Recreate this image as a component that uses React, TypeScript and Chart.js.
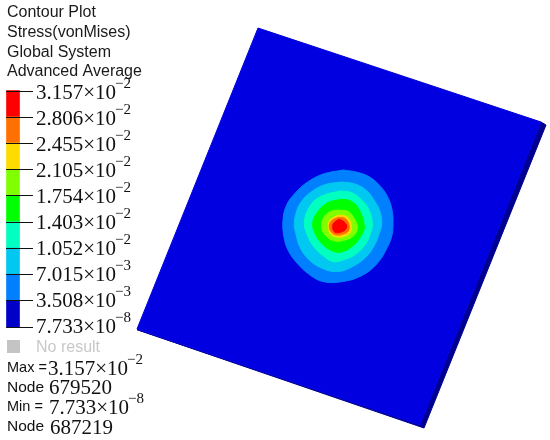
import { useEffect, useRef } from "react";
import { Chart, registerables } from "chart.js";

Chart.register(...registerables);

const titleLines = ["Contour Plot", "Stress(vonMises)", "Global System", "Advanced Average"];
const levels = [3.157e-2, 2.806e-2, 2.455e-2, 2.105e-2, 1.754e-2, 1.403e-2, 1.052e-2, 7.015e-3, 3.508e-3, 7.733e-8];
const mantissas = ["3.157", "2.806", "2.455", "2.105", "1.754", "1.403", "1.052", "7.015", "3.508", "7.733"];
const exponents = ["−2", "−2", "−2", "−2", "−2", "−2", "−2", "−3", "−3", "−8"];
const bandColors = ["#ff0000", "#ff7000", "#ffdc00", "#80ff00", "#00ff00", "#00ffc0", "#00c8f0", "#0080ff", "#0000c8"];

const plateX = [-36, 813, 450, -399, -36];
const plateY = [-396, -114, 795, 507, -396];
const edgeX = [813, 828, 462, -399, 450, 813];
const edgeY = [-114, -105, 804, 509, 795, -114];

const contourColors = ["#0080ff", "#00c8f0", "#00ffc0", "#00ff00", "#80ff00", "#ffdc00", "#ff7000", "#ff0000"];
const contourX = [
  [220, 262, 300, 332, 355, 367, 369, 366, 352, 322, 275, 215, 160, 120, 81, 54, 42, 39, 50, 75, 110, 160, 220],
  [215, 255, 290, 315, 330, 335, 328, 312, 287, 247, 200, 150, 114, 90, 78, 73, 78, 92, 122, 165, 215],
  [210, 245, 275, 297, 307, 303, 288, 258, 220, 190, 159, 129, 111, 103, 122, 155, 210],
  [210, 240, 265, 283, 270, 248, 215, 185, 155, 135, 128, 140, 170, 210],
  [205, 235, 255, 262, 250, 225, 195, 170, 155, 160, 180, 205],
  [205, 230, 243, 242, 225, 200, 182, 175, 180, 205],
  [205, 225, 237, 235, 220, 200, 185, 178, 185, 205],
  [207, 222, 230, 225, 210, 195, 188, 192, 207],
];
const contourY = [
  [30, 37, 52, 80, 115, 155, 190, 225, 262, 310, 347, 365, 365, 345, 309, 270, 231, 180, 135, 100, 68, 42, 30],
  [66, 72, 92, 125, 155, 190, 220, 258, 292, 320, 335, 322, 296, 262, 222, 195, 160, 128, 97, 74, 66],
  [93, 98, 120, 150, 190, 215, 250, 282, 300, 305, 287, 257, 222, 185, 135, 108, 93],
  [118, 122, 145, 200, 232, 258, 276, 272, 250, 220, 190, 160, 130, 118],
  [150, 155, 180, 205, 228, 240, 243, 230, 205, 175, 155, 150],
  [165, 170, 190, 215, 228, 231, 222, 200, 180, 165],
  [172, 175, 195, 213, 222, 225, 217, 200, 182, 172],
  [178, 185, 198, 210, 217, 217, 203, 188, 178],
];

const SANS = '"Liberation Sans", Arial, sans-serif';
const SERIF = '"Liberation Serif", "Times New Roman", serif';

function sci(ctx: CanvasRenderingContext2D, m: string, e: string, x: number, y: number) {
  ctx.font = `21px ${SERIF}`;
  const text = `${m}×10`;
  ctx.fillText(text, x, y);
  const w = ctx.measureText(text).width;
  ctx.font = `15px ${SERIF}`;
  ctx.fillText(e, x + w - 1, y - 11);
}

const annotate = {
  id: "annotate",
  afterDraw(chart: any) {
    const { ctx } = chart;
    const s = chart.scales.stress;
    ctx.save();
    ctx.textBaseline = "alphabetic";
    ctx.textAlign = "left";
    ctx.fillStyle = "#1a1a1a";
    ctx.font = `16px ${SANS}`;
    titleLines.forEach((t, i) => ctx.fillText(t, 7, 17 + i * 19.8));
    ctx.strokeStyle = "#111";
    ctx.lineWidth = 1;
    levels.forEach((v, i) => {
      const y = Math.round(s.getPixelForValue(v)) + 0.5;
      ctx.beginPath();
      ctx.moveTo(6, y);
      ctx.lineTo(33, y);
      ctx.stroke();
      ctx.fillStyle = "#111";
      sci(ctx, mantissas[i], exponents[i], 36, 99 + i * 26);
    });
    ctx.fillStyle = "#c4c4c4";
    ctx.fillRect(7, 340, 13, 13);
    ctx.font = `16px ${SANS}`;
    ctx.fillStyle = "#c8c8c8";
    ctx.fillText("No result", 36, 352);
    ctx.fillStyle = "#111";
    ctx.font = `14.5px ${SANS}`;
    ctx.fillText("Max =", 7, 372);
    sci(ctx, mantissas[0], exponents[0], 48, 375);
    ctx.font = `15.5px ${SANS}`;
    ctx.fillText("Node", 7, 392);
    ctx.font = `21px ${SERIF}`;
    ctx.fillText("679520", 49, 394);
    ctx.font = `14.5px ${SANS}`;
    ctx.fillText("Min =", 7, 411);
    sci(ctx, mantissas[9], exponents[9], 49, 414);
    ctx.font = `15.5px ${SANS}`;
    ctx.fillText("Node", 7, 431);
    ctx.font = `21px ${SERIF}`;
    ctx.fillText("687219", 50, 434);
    ctx.restore();
  },
};

const toPoints = (xs: number[], ys: number[]) => xs.map((x, i) => ({ x, y: ys[i] }));

export default function App() {
  const ref = useRef<HTMLCanvasElement>(null);
  useEffect(() => {
    document.body.style.margin = "0";
    const poly = (xs: number[], ys: number[], color: string, order: number, tension = 0) => ({
      type: "scatter" as const,
      data: toPoints(xs, ys),
      showLine: true,
      fill: "shape",
      backgroundColor: color,
      borderColor: color,
      borderWidth: 1,
      pointRadius: 0,
      tension,
      order,
      xAxisID: "x",
      yAxisID: "y",
    });
    const n = contourX.length;
    const chart = new Chart(ref.current!, {
      type: "scatter",
      data: {
        datasets: [
          {
            type: "bar",
            data: bandColors.map((_, i) => ({ x: -771, y: [levels[i + 1], levels[i]] })),
            backgroundColor: bandColors,
            barThickness: 13,
            xAxisID: "x",
            yAxisID: "stress",
            order: 0,
          },
          ...contourX.map((xs, i) => poly(xs, contourY[i], contourColors[i], n - i, 0.4)),
          poly(plateX, plateY, "#0000e0", n + 1),
          poly(edgeX, edgeY, "#000090", n + 2),
        ] as any,
      },
      options: {
        animation: false,
        responsive: false,
        layout: { padding: 0 },
        plugins: { legend: { display: false }, tooltip: { enabled: false } },
        scales: {
          x: { type: "linear", display: false, min: -810, max: 840, offset: false },
          y: { type: "linear", display: false, min: -480, max: 840, reverse: true, offset: false },
          stress: { type: "linear", display: false, min: -0.01514, max: 0.04367, offset: false },
        },
      },
      plugins: [annotate],
    });
    return () => chart.destroy();
  }, []);
  return <canvas ref={ref} width={550} height={440} style={{ display: "block" }} />;
}
